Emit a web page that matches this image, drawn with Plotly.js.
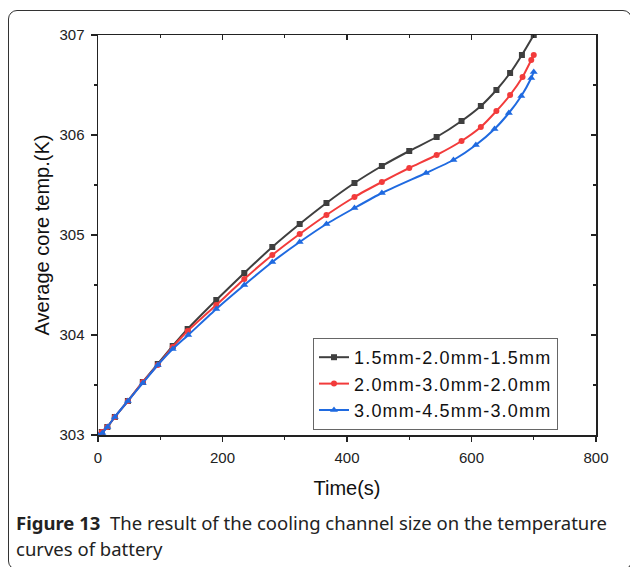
<!DOCTYPE html>
<html>
<head>
<meta charset="utf-8">
<script src="https://cdn.plot.ly/plotly-3.0.1.min.js"></script>
<style>
html,body{margin:0;padding:0;background:#fff;}
#wrap{position:relative;width:630px;height:567px;overflow:hidden;}
#frame{position:absolute;left:8px;top:10px;width:624px;height:560px;border:1px solid #333;border-radius:9px;box-sizing:border-box;}
#chart{position:absolute;left:0;top:0;width:630px;height:567px;}
.legendtext{letter-spacing:1.2px;}
</style>
</head>
<body>
<div id="wrap">
<div id="frame"></div>
<div id="chart"></div>
</div>
<script>
// Series names
const seriesNames = ['1.5mm-2.0mm-1.5mm', '2.0mm-3.0mm-2.0mm', '3.0mm-4.5mm-3.0mm'];

// Time (s)
const tBlack = [0, 6, 15, 27, 48, 72, 96, 120, 144, 190, 235, 280, 324, 367, 412, 456, 500, 544, 584, 615, 640, 662, 681, 700];
const tRed   = [0, 6, 15, 27, 48, 72, 96, 120, 144, 190, 235, 280, 324, 367, 412, 456, 500, 544, 584, 615, 640, 662, 682, 696, 700];
const tBlue  = [0, 7, 15, 27, 48, 72, 96, 120, 145, 190, 235, 280, 324, 367, 412, 456, 527, 571, 607, 637, 660, 680, 696, 700];

// Average core temperature (K)
const tempBlack = [303.00, 303.03, 303.08, 303.18, 303.34, 303.53, 303.71, 303.89, 304.06, 304.35, 304.62, 304.88, 305.11, 305.32, 305.52, 305.69, 305.84, 305.98, 306.14, 306.29, 306.45, 306.62, 306.80, 307.00];
const tempRed   = [303.00, 303.03, 303.08, 303.18, 303.34, 303.53, 303.70, 303.88, 304.04, 304.30, 304.56, 304.80, 305.01, 305.20, 305.38, 305.53, 305.67, 305.80, 305.94, 306.08, 306.24, 306.40, 306.58, 306.75, 306.80];
const tempBlue  = [303.00, 303.02, 303.08, 303.18, 303.34, 303.52, 303.70, 303.86, 304.00, 304.26, 304.50, 304.73, 304.93, 305.11, 305.27, 305.42, 305.62, 305.75, 305.90, 306.06, 306.22, 306.39, 306.57, 306.63];

// Axis ticks
const xTicks = [0, 200, 400, 600, 800];
const yTicks = [303, 304, 305, 306, 307];

const captionBold = 'Figure 13';
const captionLine1 = 'The result of the cooling channel size on the temperature';
const captionLine2 = 'curves of battery';

const colors = ['#3f3f3f', '#f23b3b', '#1f6ae0'];
const symbols = ['square', 'circle', 'triangle-up'];
const xs = [tBlack, tRed, tBlue];
const ys = [tempBlack, tempRed, tempBlue];

const traces = seriesNames.map((n, i) => ({
  x: xs[i], y: ys[i], name: n, type: 'scatter', mode: 'lines+markers',
  line: {color: colors[i], width: 2, shape: 'spline', smoothing: 0.5},
  marker: {color: colors[i], symbol: symbols[i], size: i === 2 ? 7 : 6},
  cliponaxis: true
}));

const fam = 'Liberation Sans, Arial, sans-serif';
const axisFont = {family: fam, size: 15, color: '#222'};
const titleFont = {family: fam, size: 20, color: '#111'};

const layout = {
  width: 630, height: 567,
  margin: {l: 98, r: 34, t: 35, b: 132},
  paper_bgcolor: 'rgba(0,0,0,0)',
  plot_bgcolor: 'rgba(0,0,0,0)',
  showlegend: true,
  legend: {
    x: 0.4317, y: 0.0125, xanchor: 'left', yanchor: 'bottom',
    bgcolor: '#fff', bordercolor: '#666', borderwidth: 1,
    font: {family: fam, size: 18, color: '#111'},
    tracegroupgap: 0
  },
  xaxis: {
    range: [0, 800], tickvals: xTicks, ticktext: xTicks.map(String),
    showgrid: false, zeroline: false, showline: true, linecolor: '#222', linewidth: 1.5,
    ticks: 'outside', ticklen: 5, tickwidth: 1.2, tickcolor: '#222', ticklabelstandoff: 3,
    minor: {dtick: 100, tick0: 0, ticks: 'outside', ticklen: 3, tickwidth: 1.2, tickcolor: '#222', showgrid: false},
    tickfont: axisFont,
    title: {text: 'Time(s)', font: titleFont, standoff: 16}
  },
  yaxis: {
    range: [303, 307], tickvals: yTicks, ticktext: yTicks.map(String),
    showgrid: false, zeroline: false, showline: true, linecolor: '#222', linewidth: 1.5,
    ticks: 'outside', ticklen: 6, tickwidth: 1.2, tickcolor: '#222', ticklabelstandoff: 3,
    minor: {dtick: 0.5, tick0: 303, ticks: 'outside', ticklen: 3, tickwidth: 1.2, tickcolor: '#222', showgrid: false},
    tickfont: axisFont,
    title: {text: 'Average core temp.(K)', font: titleFont, standoff: 4}
  },
  xaxis2: {
    overlaying: 'x', side: 'top', range: [0, 800], tickvals: xTicks,
    showticklabels: false, showgrid: false, zeroline: false, showline: true, linecolor: '#222', linewidth: 1.5,
    ticks: 'inside', ticklen: 5, tickwidth: 1.2, tickcolor: '#222',
    minor: {dtick: 100, tick0: 0, ticks: 'inside', ticklen: 3, tickwidth: 1.2, tickcolor: '#222', showgrid: false}
  },
  yaxis2: {
    overlaying: 'y', side: 'right', range: [303, 307], tickvals: yTicks,
    showticklabels: false, showgrid: false, zeroline: false, showline: true, linecolor: '#222', linewidth: 1.5,
    ticks: 'inside', ticklen: 5, tickwidth: 1.2, tickcolor: '#222',
    minor: {dtick: 0.5, tick0: 303, ticks: 'inside', ticklen: 3, tickwidth: 1.2, tickcolor: '#222', showgrid: false}
  },
  annotations: [
    {xref: 'paper', yref: 'paper', x: -0.1687, y: -0.2175, xanchor: 'left', yanchor: 'middle', showarrow: false,
     text: '<b>' + captionBold + '</b>\u00a0\u00a0' + captionLine1,
     font: {family: 'Noto Sans, Open Sans, sans-serif', size: 18.5, color: '#222'}, align: 'left'},
    {xref: 'paper', yref: 'paper', x: -0.1687, y: -0.2825, xanchor: 'left', yanchor: 'middle', showarrow: false,
     text: captionLine2,
     font: {family: 'Noto Sans, Open Sans, sans-serif', size: 18.5, color: '#222'}, align: 'left'}
  ]
};

// invisible helper trace so the mirrored tick axes are drawn
traces.push({x: [0], y: [303], xaxis: 'x2', yaxis: 'y2', mode: 'markers', marker: {opacity: 0}, showlegend: false, hoverinfo: 'skip'});

Plotly.newPlot('chart', traces, layout, {displayModeBar: false, staticPlot: true});
</script>
</body>
</html>
